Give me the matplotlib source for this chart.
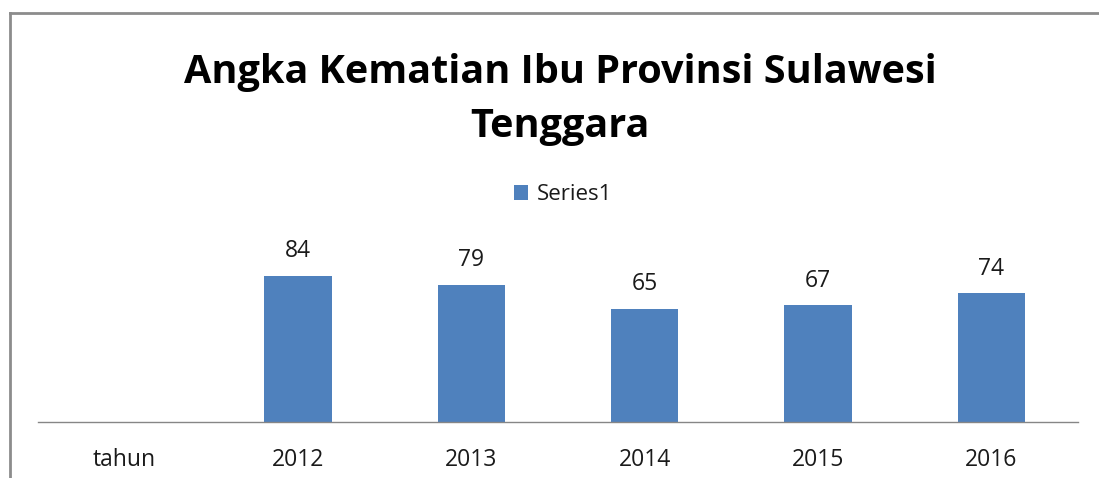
import matplotlib.pyplot as plt
from matplotlib.lines import Line2D

# data
categories = ["tahun", "2012", "2013", "2014", "2015", "2016"]
values = [0, 84, 79, 65, 67, 74]
labels = ["", "84", "79", "65", "67", "74"]

W, H = 1099, 478
fig = plt.figure(figsize=(W / 100, H / 100), dpi=100)
plt.rcParams['font.family'] = ['Open Sans', 'DejaVu Sans']

# axes placed in pixel terms: baseline at y=422, x from 38 to 1078
ax = fig.add_axes([38 / W, (H - 422) / H, 1040 / W, 174 / H])
x = range(len(categories))
bars = ax.bar(x, values, width=0.39, color='#4F81BD', label='Series1')
ax.set_xlim(-0.5, len(categories) - 0.5)
ax.set_ylim(0, 100)

for b, lab in zip(bars, labels):
    if lab:
        ax.annotate(lab, (b.get_x() + b.get_width() / 2, b.get_height()),
                    xytext=(0, 9), textcoords='offset points',
                    ha='center', va='bottom', fontsize=16.5, color='#1a1a1a')

ax.set_xticks(list(x))
ax.set_xticklabels(categories, fontsize=16.5, color='#1a1a1a')
ax.tick_params(axis='x', length=0, pad=19)
ax.set_yticks([])
for s in ['top', 'right', 'left']:
    ax.spines[s].set_visible(False)
ax.spines['bottom'].set_color('#868686')
ax.spines['bottom'].set_linewidth(1.0)
ax.patch.set_visible(False)

# chart border (partly clipped by the image edge)
fig.add_artist(Line2D([10 / W, 1.0], [1 - 13 / H, 1 - 13 / H], color='#8c8c8c', lw=2.0))
fig.add_artist(Line2D([10 / W, 10 / W], [0, 1 - 13 / H], color='#8c8c8c', lw=2.0))

fig.text(560 / W, 1 - 100 / H, "Angka Kematian Ibu Provinsi Sulawesi\nTenggara",
         ha='center', va='center', fontsize=28.5, fontweight='bold',
         linespacing=1.5, color='black')

ax.legend(loc='center', bbox_to_anchor=(563 / W, 1 - 195 / H),
          bbox_transform=fig.transFigure, frameon=False, fontsize=16,
          handlelength=0.65, handleheight=0.65, handletextpad=0.4,
          labelcolor='#1a1a1a')

fig.savefig('out.png', dpi=100)
